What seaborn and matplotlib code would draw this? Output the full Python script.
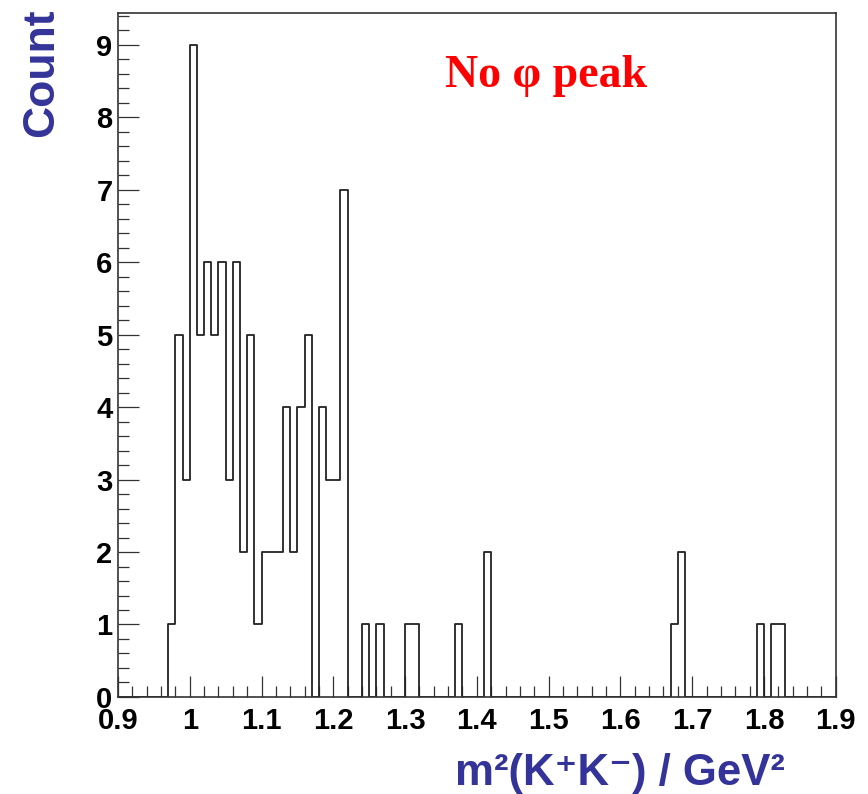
import numpy as np
import pandas as pd
import matplotlib
matplotlib.use("Agg")
import matplotlib.pyplot as plt
from matplotlib.ticker import MultipleLocator, FuncFormatter
import seaborn as sns

# Left edges of the occupied 0.01 GeV^2 bins and their entries
bin_low = [0.97, 0.98, 0.99, 1.00, 1.01, 1.02, 1.03, 1.04, 1.05, 1.06,
           1.07, 1.08, 1.09, 1.10, 1.11, 1.12, 1.13, 1.14, 1.15, 1.16,
           1.18, 1.19, 1.20, 1.21, 1.24, 1.26, 1.30, 1.31, 1.37, 1.41,
           1.67, 1.68, 1.79, 1.81, 1.82]
counts = [1, 5, 3, 9, 5, 6, 5, 6, 3, 6,
          2, 5, 1, 2, 2, 2, 4, 2, 4, 5,
          4, 3, 3, 7, 1, 1, 1, 1, 1, 2,
          1, 2, 1, 1, 1]
bin_width = 0.01
x_range = (0.9, 1.9)

x_title = "m\u00b2(K\u207aK\u207b) / GeV\u00b2"
y_title = "Count"
note = "No \u03c6 peak"

sns.set_style("ticks")
plt.rcParams["font.family"] = ["Liberation Sans", "DejaVu Sans"]

df = pd.DataFrame({"m2": np.array(bin_low) + bin_width / 2,
                   "n": np.array(counts, dtype=float)})

fig = plt.figure(figsize=(8.68, 7.94), dpi=100)
ax = fig.add_axes([0.1359, 0.1222, 0.8269, 0.8608])

sns.histplot(data=df, x="m2", weights="n", binwidth=bin_width,
             binrange=x_range, element="step", fill=False,
             color="#222222", linewidth=1.3, ax=ax)

ax.set_xlim(*x_range)
ax.set_ylim(0, 9.43)

for s in ax.spines.values():
    s.set_visible(True)
    s.set_linewidth(1.2)
    s.set_color("#333333")

ax.xaxis.set_major_locator(MultipleLocator(0.1))
ax.xaxis.set_minor_locator(MultipleLocator(0.02))
ax.yaxis.set_major_locator(MultipleLocator(1))
ax.yaxis.set_minor_locator(MultipleLocator(0.2))
ax.xaxis.set_major_formatter(FuncFormatter(lambda v, p: f"{v:g}"))
ax.yaxis.set_major_formatter(FuncFormatter(lambda v, p: f"{v:g}"))

ax.tick_params(axis="both", which="both", direction="in", color="#333333",
               width=0.9, top=False, right=False)
ax.tick_params(axis="both", which="major", length=15)
ax.tick_params(axis="both", which="minor", length=8)
ax.tick_params(axis="x", which="major", pad=7.5)
ax.tick_params(axis="y", which="major", pad=4)
for lab in ax.get_xticklabels() + ax.get_yticklabels():
    lab.set_fontsize(21)
    lab.set_fontweight("bold")
    lab.set_color("black")

ax.set_xlabel(x_title, fontsize=31.5, fontweight="bold", color="#333399")
ax.xaxis.label.set_ha("right")
ax.xaxis.label.set_va("baseline")
ax.xaxis.set_label_coords(0.9294, -0.1287)

ax.set_ylabel(y_title, fontsize=32, fontweight="bold", color="#333399")
ax.yaxis.label.set_ha("right")
ax.yaxis.label.set_va("baseline")
ax.yaxis.set_label_coords(-0.0906, 1.0076)

ax.text(0.4556, 0.893, note, transform=ax.transAxes, ha="left", va="baseline",
        fontsize=33, fontweight="bold", color="red",
        family=["Liberation Serif", "DejaVu Serif"])

fig.savefig("out.png", dpi=100)
